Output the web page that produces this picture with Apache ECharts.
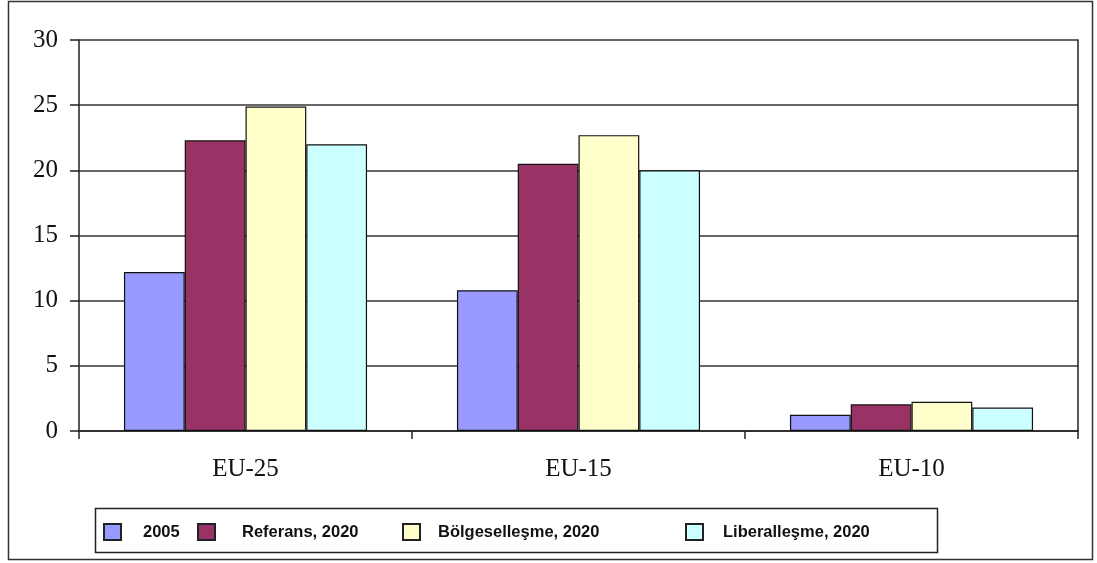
<!DOCTYPE html>
<html>
<head>
<meta charset="utf-8">
<script src="https://cdn.jsdelivr.net/npm/echarts@6/dist/echarts.min.js"></script>
<style>html,body{margin:0;padding:0;background:#fff;}#c{width:1097px;height:563px;}</style>
</head>
<body>
<div id="c"></div>
<script>
var categories = ['EU-25', 'EU-15', 'EU-10'];
var seriesNames = ['2005', 'Referans, 2020', 'Bölgeselleşme, 2020', 'Liberalleşme, 2020'];
var v2005 = [12.2, 10.8, 1.25];
var vReferans = [22.3, 20.5, 2.05];
var vBolge = [24.9, 22.7, 2.25];
var vLiberal = [22.0, 20.0, 1.8];
var colors = ['#9999FF', '#993366', '#FFFFCC', '#CCFFFF'];
var legendLeft = [103, 197, 402, 685];
var legendTextPad = [17, 22, 13, 15];

var chart = echarts.init(document.getElementById('c'), null, {renderer: 'canvas'});
var dataSets = [v2005, vReferans, vBolge, vLiberal];
var series = dataSets.map(function (d, i) {
  return {
    name: seriesNames[i],
    type: 'bar',
    data: d,
    barGap: '0%',
    barCategoryGap: '27%',
    itemStyle: {color: colors[i], borderColor: '#111', borderWidth: 1.2},
    emphasis: {disabled: true}
  };
});
var legends = seriesNames.map(function (n, i) {
  return {
    data: [{name: n, icon: 'rect'}],
    left: legendLeft[i],
    top: 523,
    padding: 0,
    itemWidth: 17,
    itemHeight: 16,
    selectedMode: false,
    textStyle: {fontFamily: 'Liberation Sans, Arial', fontWeight: 'bold', fontSize: 16.5, color: '#111', padding: [0, 0, 0, legendTextPad[i]]},
    itemStyle: {borderColor: '#222', borderWidth: 2}
  };
});
chart.setOption({
  animation: false,
  backgroundColor: '#fff',
  color: colors,
  grid: {left: 79, right: 19, top: 40, bottom: 132},
  legend: legends,
  xAxis: {
    type: 'category',
    data: categories,
    axisLine: {lineStyle: {color: '#222', width: 1.5}},
    axisTick: {show: true, length: 8, lineStyle: {color: '#222', width: 1.5}},
    axisLabel: {margin: 26, fontFamily: 'Liberation Serif, Times New Roman', fontSize: 25, color: '#111'}
  },
  yAxis: [{
    type: 'value',
    min: 0, max: 30, interval: 5,
    axisLine: {show: true, lineStyle: {color: '#222', width: 1.5}},
    axisTick: {show: true, length: 9, lineStyle: {color: '#222', width: 1.5}},
    axisLabel: {margin: 21, fontFamily: 'Liberation Serif, Times New Roman', fontSize: 25, color: '#111'},
    splitLine: {show: true, lineStyle: {color: '#333', width: 1.5}}
  }, {
    type: 'value',
    position: 'right',
    min: 0, max: 30, interval: 5,
    axisLine: {show: true, lineStyle: {color: '#222', width: 1.5}},
    axisTick: {show: false},
    axisLabel: {show: false},
    splitLine: {show: false}
  }],
  series: series,
  graphic: [
    {type: 'rect', shape: {x: 8.5, y: 1.5, width: 1084, height: 558}, style: {fill: 'none', stroke: '#333', lineWidth: 1.5}, silent: true},
    {type: 'rect', shape: {x: 95.5, y: 508.5, width: 842, height: 44}, style: {fill: 'none', stroke: '#222', lineWidth: 1.5}, silent: true}
  ]
});
</script>
</body>
</html>
